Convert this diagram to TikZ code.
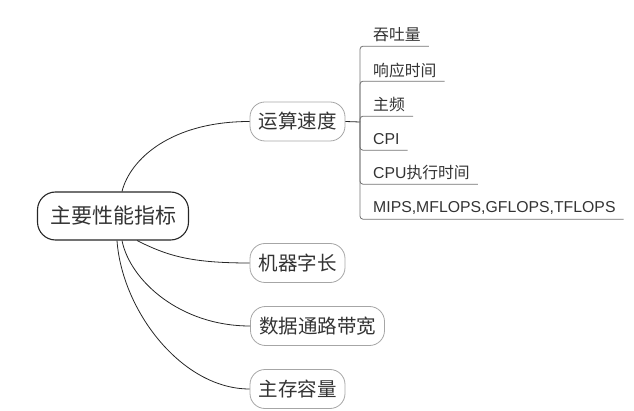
\documentclass[tikz,border=0pt]{standalone}
\usepackage{fontspec}
\setmainfont{Liberation Sans}
\newfontfamily\cjk{Noto Sans CJK SC}

\begin{document}
\begin{tikzpicture}[
    x=1pt, y=-1pt,
    every node/.style={text=black!80},
    root/.style={
        draw=black!85, line width=1.1pt, rounded corners=18pt,
        minimum width=151pt, minimum height=48pt, inner xsep=0pt, inner ysep=0pt,
        font=\cjk\fontsize{21pt}{21pt}\selectfont
    },
    topic/.style={
        draw=black!35, line width=0.8pt, rounded corners=15pt,
        minimum height=39pt, inner xsep=8.5pt, inner ysep=0pt,
        font=\cjk\fontsize{19.5pt}{20pt}\selectfont
    },
    item/.style={
        anchor=west, inner xsep=0pt, inner ysep=0pt, minimum height=22pt,
        font=\fontsize{15.8pt}{16pt}\selectfont
    },
    link/.style={draw=black!85, line width=0.8pt},
    rule/.style={draw=black!55, line width=0.8pt, rounded corners=3pt},
    ]
    \useasboundingbox (0,0) rectangle (634,411);

    \node[root] (root) at (113,216) {主要性能指标};
    \node[topic] (speed) at (297.5,121.5) {运算速度};
    \node[topic] (wordlen) at (297.5,263) {机器字长};
    \node[topic] (bus) at (317.5,326) {数据通路带宽};
    \node[topic] (memory) at (297.5,389) {主存容量};

    \draw[link] ([xshift=9pt]root.north) .. controls +(8,-32) and +(-79,0) .. (speed.west);
    \draw[link] ([xshift=24pt]root.south) .. controls +(30,15) and +(-60,0) .. (wordlen.west);
    \draw[link] ([xshift=9pt]root.south) .. controls +(8,40) and +(-70,0) .. (bus.west);
    \draw[link] ([xshift=4pt]root.south) .. controls +(5,70) and +(-68,0) .. (memory.west);

    % speed details
    \coordinate (hub) at (360,122);
    \draw[link] (speed.east) -- (hub);

    \node[item] (throughput) at (373,35) {\cjk 吞吐量};
    \node[item] (response) at (373,70) {\cjk 响应时间};
    \node[item] (clock) at (373,105) {\cjk 主频};
    \node[item] (cpi) at (373,139) {CPI};
    \node[item] (cputime) at (373,173) {CPU{\cjk 执行时间}};
    \node[item] (mips) at (373,208) {MIPS,MFLOPS,GFLOPS,TFLOPS};

    \draw[rule] (hub) |- ([xshift=8pt]throughput.south east);
    \draw[rule] (hub) |- ([xshift=8pt]response.south east);
    \draw[rule] (hub) |- ([xshift=8pt]clock.south east);
    \draw[rule] (hub) |- ([xshift=8pt]cpi.south east);
    \draw[rule] (hub) |- ([xshift=8pt]cputime.south east);
    \draw[rule] (hub) |- ([xshift=8pt]mips.south east);
\end{tikzpicture}
\end{document}
